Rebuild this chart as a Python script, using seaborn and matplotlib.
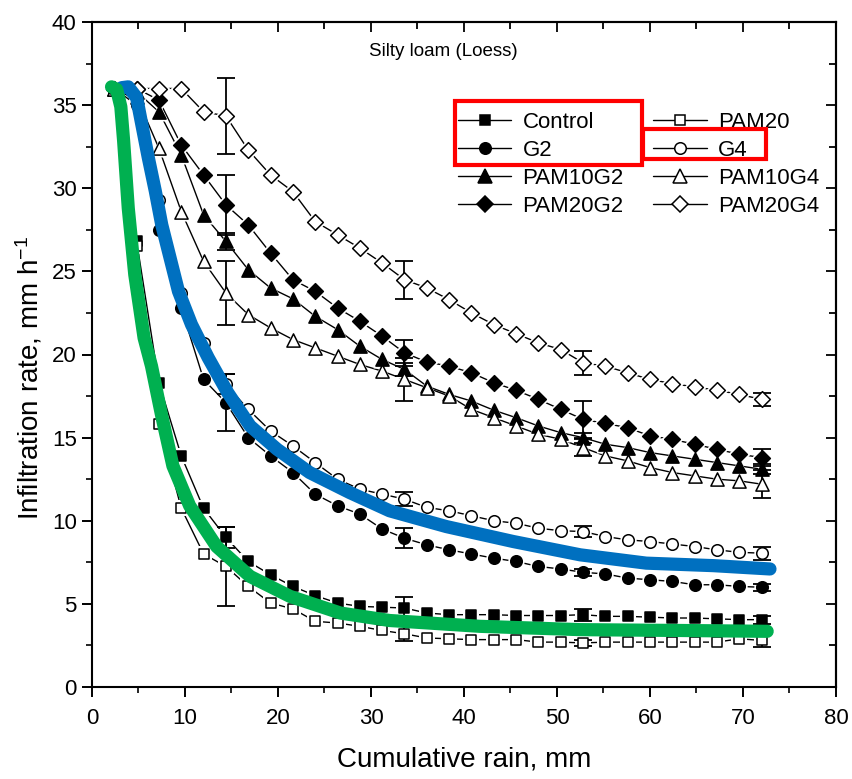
import numpy as np
import pandas as pd
import matplotlib
matplotlib.use("Agg")
import matplotlib.pyplot as plt
from matplotlib.lines import Line2D
from matplotlib.patches import Rectangle
from matplotlib.ticker import MultipleLocator
import seaborn as sns

# ---------------- data ----------------
x_rain = [2.4, 4.8, 7.2, 9.6, 12.0, 14.4, 16.8, 19.2, 21.6, 24.0,
          26.4, 28.8, 31.2, 33.6, 36.0, 38.4, 40.8, 43.2, 45.6, 48.0,
          50.4, 52.8, 55.2, 57.6, 60.0, 62.4, 64.8, 67.2, 69.6, 72.0]

control = [36.0, 26.8, 18.3, 13.9, 10.75, 9.0, 7.55, 6.75, 6.05, 5.5,
           5.05, 4.85, 4.8, 4.75, 4.45, 4.35, 4.35, 4.35, 4.3, 4.3,
           4.3, 4.35, 4.25, 4.25, 4.2, 4.15, 4.15, 4.1, 4.05, 4.05]
pam20 = [36.0, 26.5, 15.8, 10.75, 8.0, 7.25, 6.05, 5.05, 4.7, 3.95,
         3.85, 3.65, 3.4, 3.2, 2.95, 2.9, 2.85, 2.85, 2.85, 2.7,
         2.7, 2.65, 2.7, 2.7, 2.7, 2.7, 2.7, 2.7, 2.9, 2.8]
g2 = [36.0, 35.0, 27.5, 22.8, 18.5, 17.1, 15.0, 13.9, 12.9, 11.6,
      10.9, 10.4, 9.5, 8.95, 8.55, 8.25, 8.0, 7.75, 7.55, 7.25,
      7.1, 6.9, 6.8, 6.55, 6.45, 6.35, 6.15, 6.15, 6.05, 6.0]
g4 = [36.0, 35.3, 29.3, 23.7, 20.7, 18.2, 16.7, 15.4, 14.5, 13.5,
      12.5, 11.9, 11.6, 11.3, 10.8, 10.6, 10.3, 10.0, 9.85, 9.55,
      9.4, 9.35, 9.05, 8.85, 8.75, 8.6, 8.45, 8.25, 8.1, 8.05]
pam10g2 = [36.0, 35.8, 34.6, 32.0, 28.4, 26.8, 25.1, 24.0, 23.35, 22.3,
           21.5, 20.5, 19.7, 19.1, 18.1, 17.6, 17.2, 16.65, 16.2, 15.7,
           15.3, 15.0, 14.6, 14.4, 14.1, 13.9, 13.7, 13.5, 13.3, 13.1]
pam10g4 = [36.0, 35.5, 32.4, 28.6, 25.6, 23.7, 22.4, 21.6, 20.9, 20.4,
           19.9, 19.4, 19.0, 18.5, 18.0, 17.5, 16.7, 16.2, 15.7, 15.2,
           14.9, 14.4, 13.9, 13.6, 13.2, 12.9, 12.7, 12.5, 12.4, 12.2]
pam20g2 = [36.0, 36.0, 35.3, 32.6, 30.8, 29.0, 27.8, 26.1, 24.5, 23.8,
           22.8, 22.0, 21.1, 20.1, 19.55, 19.3, 18.9, 18.3, 17.85, 17.3,
           16.7, 16.1, 15.85, 15.6, 15.1, 14.9, 14.6, 14.3, 14.0, 13.8]
pam20g4 = [36.0, 36.0, 36.0, 36.0, 34.6, 34.35, 32.3, 30.8, 29.8, 28.0,
           27.2, 26.4, 25.5, 24.5, 24.0, 23.3, 22.5, 21.8, 21.25, 20.7,
           20.3, 19.5, 19.3, 18.9, 18.5, 18.25, 18.05, 17.85, 17.6, 17.3]

# error bars (at 14.4, 33.6, 52.8, 72.0 mm)
err_x = [14.4, 33.6, 52.8, 72.0]
err_control = [0.65, 0.65, 0.35, 0.25]
err_pam20 = [2.4, 0.45, 0.2, 0.4]
err_g2 = [1.7, 0.6, 0.2, 0.2]
err_g4 = [0.6, 0.4, 0.35, 0.4]
err_pam10g2 = [0.5, 0.4, 0.3, 0.3]
err_pam10g4 = [1.9, 1.3, 0.5, 0.85]
err_pam20g2 = [1.8, 0.8, 1.1, 0.5]
err_pam20g4 = [2.3, 1.15, 0.72, 0.4]

# overlaid thick fitted curves
blue_x = [3.2, 3.9, 4.8, 5.3, 6.05, 6.8, 7.5, 8.4, 9.3, 10.7, 12.5, 14.6,
          17.0, 19.9, 23.4, 27.7, 32.0, 38.1, 45.3, 52.5, 59.6, 66.8, 72.9]
blue_y = [36.05, 36.1, 35.45, 34.0, 31.85, 29.85, 27.8, 25.8, 23.8, 21.8, 19.8, 17.7,
          15.7, 14.3, 12.9, 11.7, 10.6, 9.65, 8.75, 7.95, 7.45, 7.3, 7.1]
green_x = [2.1, 2.65, 3.1, 3.4, 3.9, 4.6, 5.6, 6.4, 7.5, 8.7, 10.5, 13.4,
           17.0, 21.3, 26.7, 32.0, 41.7, 52.5, 63.2, 72.6]
green_y = [36.1, 35.95, 34.9, 32.85, 28.8, 24.8, 21.0, 19.3, 16.3, 13.3, 10.9, 8.45,
           6.65, 5.45, 4.45, 4.0, 3.65, 3.45, 3.4, 3.35]

labels = ["Control", "G2", "PAM10G2", "PAM20G2", "PAM20", "G4", "PAM10G4", "PAM20G4"]

# ---------------- style ----------------
sns.set_theme(style="ticks")
plt.rcParams["font.family"] = ["Liberation Sans", "DejaVu Sans"]
plt.rcParams["mathtext.fontset"] = "custom"
plt.rcParams["mathtext.rm"] = "Liberation Sans"
plt.rcParams["mathtext.it"] = "Liberation Sans:italic"
plt.rcParams["mathtext.bf"] = "Liberation Sans:bold"
plt.rcParams["text.color"] = "black"
plt.rcParams["axes.labelcolor"] = "black"
plt.rcParams["xtick.color"] = "black"
plt.rcParams["ytick.color"] = "black"
plt.rcParams["xtick.labelcolor"] = "black"
plt.rcParams["ytick.labelcolor"] = "black"

W, H = 853, 779
fig = plt.figure(figsize=(W / 100, H / 100), dpi=100)
fig.patch.set_facecolor("white")
ax = fig.add_axes([92 / W, 1 - 687 / H, 744 / W, 665 / H])
ax.set_facecolor("white")

series = {
    "Control": dict(y=control, e=err_control, m="s", ms=7.5, fill=True),
    "PAM20": dict(y=pam20, e=err_pam20, m="s", ms=7.5, fill=False),
    "G2": dict(y=g2, e=err_g2, m="o", ms=8.3, fill=True),
    "G4": dict(y=g4, e=err_g4, m="o", ms=8.3, fill=False),
    "PAM10G2": dict(y=pam10g2, e=err_pam10g2, m="^", ms=9.5, fill=True),
    "PAM10G4": dict(y=pam10g4, e=err_pam10g4, m="^", ms=9.5, fill=False),
    "PAM20G2": dict(y=pam20g2, e=err_pam20g2, m="D", ms=8.0, fill=True),
    "PAM20G4": dict(y=pam20g4, e=err_pam20g4, m="D", ms=8.0, fill=False),
}

frames = []
for name, s in series.items():
    frames.append(pd.DataFrame({"rain": x_rain, "rate": s["y"], "treat": name}))
df = pd.concat(frames, ignore_index=True)

# connecting lines
for name, s in series.items():
    sub = df[df.treat == name]
    sns.lineplot(data=sub, x="rain", y="rate", ax=ax, color="black", lw=1.0,
                 estimator=None, sort=False, legend=False, zorder=2)

# white halos (gap between line and marker, Origin style)
for name, s in series.items():
    sub = df[df.treat == name]
    sns.scatterplot(data=sub, x="rain", y="rate", ax=ax, marker=s["m"],
                    s=(s["ms"] + 3.5) ** 2, color="white", edgecolor="white",
                    linewidth=0, legend=False, zorder=3)

# error bars
for name, s in series.items():
    idx = [x_rain.index(v) for v in err_x]
    ax.errorbar(err_x, [s["y"][i] for i in idx], yerr=s["e"], fmt="none",
                ecolor="black", elinewidth=1.3, capsize=6.5, capthick=1.3, zorder=3.5)

# markers
for name, s in series.items():
    sub = df[df.treat == name]
    sns.scatterplot(data=sub, x="rain", y="rate", ax=ax, marker=s["m"],
                    s=s["ms"] ** 2, color="black" if s["fill"] else "white",
                    edgecolor="black", linewidth=1.1, legend=False, zorder=4)

# thick overlaid curves
sns.lineplot(x=blue_x, y=blue_y, ax=ax, color="#0070C0", lw=9.5, sort=False,
             estimator=None, legend=False, zorder=6, solid_capstyle="round")
sns.lineplot(x=green_x, y=green_y, ax=ax, color="#00B050", lw=9.5, sort=False,
             estimator=None, legend=False, zorder=6, solid_capstyle="round")

# axes
ax.set_xlim(0, 80)
ax.set_ylim(0, 40)
ax.xaxis.set_major_locator(MultipleLocator(10))
ax.xaxis.set_minor_locator(MultipleLocator(5))
ax.yaxis.set_major_locator(MultipleLocator(5))
ax.yaxis.set_minor_locator(MultipleLocator(2.5))
for sp in ax.spines.values():
    sp.set_visible(True)
    sp.set_linewidth(1.5)
    sp.set_color("black")
ax.tick_params(which="major", direction="out", length=7, width=1.4, labelsize=16,
               colors="black")
ax.tick_params(which="minor", direction="out", length=4, width=1.2)
ax.tick_params(axis="x", which="major", pad=8)
ax.tick_params(axis="y", which="major", pad=4)

secx = ax.secondary_xaxis("top")
secx.xaxis.set_major_locator(MultipleLocator(10))
secx.xaxis.set_minor_locator(MultipleLocator(5))
secx.tick_params(which="both", direction="in", labeltop=False, width=1.3)
secx.tick_params(which="major", length=7)
secx.tick_params(which="minor", length=5)
secy = ax.secondary_yaxis("right")
secy.yaxis.set_major_locator(MultipleLocator(5))
secy.yaxis.set_minor_locator(MultipleLocator(2.5))
secy.tick_params(which="both", direction="in", labelright=False, width=1.3)
secy.tick_params(which="major", length=7)
secy.tick_params(which="minor", length=5)
for s_ax in (secx, secy):
    for sp in s_ax.spines.values():
        sp.set_linewidth(1.5)
        sp.set_color("black")

ax.set_xlabel("Cumulative rain, mm", fontsize=20, labelpad=13, color="black")
ax.set_ylabel("Infiltration rate, mm h$^{-1}$", fontsize=20, color="black")
ax.yaxis.set_label_coords(-0.064, 0.465)
ax.text(0.472, 0.956, "Silty loam (Loess)", transform=ax.transAxes,
        ha="center", va="center", fontsize=13.5, color="black")

# legend (Origin style)
handles = []
for name in labels:
    s = series[name]
    handles.append(Line2D([], [], color="black", lw=1.0, marker=s["m"],
                          markersize=s["ms"], markerfacecolor="black" if s["fill"] else "white",
                          markeredgecolor="black", markeredgewidth=1.1))
leg = ax.legend(handles, labels, ncol=2, frameon=False, fontsize=16,
                loc="upper left", bbox_to_anchor=(458 / W, 1 - 112 / H),
                bbox_transform=fig.transFigure, borderaxespad=0, borderpad=0,
                handlelength=2.4, handletextpad=0.5, columnspacing=1.33,
                labelspacing=0.31, labelcolor="black")
leg.set_zorder(7)

# red highlight boxes
for (x0, y0, x1, y1) in [(454.7, 101.3, 642, 164.7), (643, 129.3, 766, 158.7)]:
    fig.add_artist(Rectangle((x0 / W, 1 - y1 / H), (x1 - x0) / W, (y1 - y0) / H,
                             transform=fig.transFigure, fill=False,
                             edgecolor="#FF0000", lw=3, zorder=10))

fig.savefig("out.png", dpi=100, facecolor="white")
